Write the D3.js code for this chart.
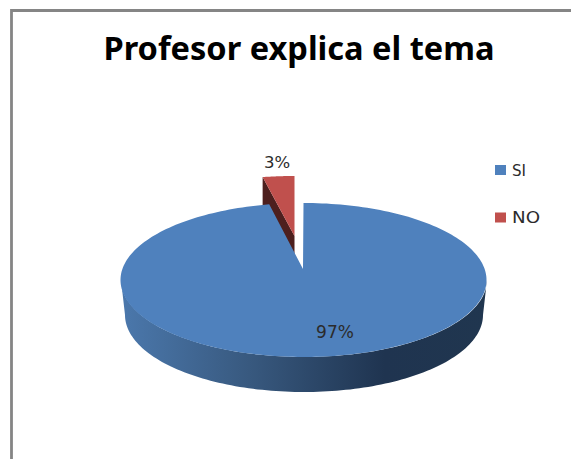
<!DOCTYPE html>
<html><head><meta charset="utf-8">
<script src="https://cdn.jsdelivr.net/npm/d3@7"></script>
<style>html,body{margin:0;padding:0;background:#fff;overflow:hidden}svg{display:block}</style>
</head><body><svg id="c" width="571" height="459"></svg>
<script>
const categories = ["SI", "NO"];
const values = [97, 3];
const labels = ["97%", "3%"];
const colors = ["#4f81bd", "#c0504d"];
const titleText = "Profesor explica el tema";

const svg = d3.select("#c");
const defs = svg.append("defs");
const grad = defs.append("linearGradient").attr("id", "side").attr("gradientUnits", "userSpaceOnUse")
  .attr("x1", 121).attr("x2", 487).attr("y1", 0).attr("y2", 0);
[[0, "#4b78ac"], [0.35, "#38597f"], [0.72, "#1f3450"], [1, "#20364f"]]
  .forEach(s => grad.append("stop").attr("offset", s[0]).attr("stop-color", s[1]));

// frame
svg.append("path").attr("d", "M11.5,459V10.5H571").attr("fill", "none").attr("stroke", "#858585").attr("stroke-width", 2.8);

svg.append("text").attr("x", 299).attr("y", 60).attr("text-anchor", "middle")
  .attr("font-family", "'Noto Sans'").attr("font-weight", 700).attr("font-size", 32)
  .attr("textLength", 391).attr("lengthAdjust", "spacingAndGlyphs").attr("fill", "#000").text(titleText);

const arcs = d3.pie().sort(null)(values);
const line = d3.line();
const ell = (cx, cy, rx, ry) => a => [cx + rx * Math.sin(a), cy - ry * Math.cos(a)];
const sample = (a0, a1, f, n = 120) => d3.range(n + 1).map(i => f(a0 + (a1 - a0) * i / n));

// exploded slice (NO)
{
  const d = arcs[1];
  const apex = [294.5, 236], f = ell(294.5, 236, 170, 60);
  const depth = 34;
  const rimStart = f(d.startAngle);
  // cut face
  svg.append("path").attr("fill", "#4d1f1e").attr("d", line([
    rimStart, apex, [apex[0], apex[1] + depth], [rimStart[0], rimStart[1] + depth]
  ]) + "Z");
  svg.append("path").attr("fill", colors[1]).attr("d",
    line([apex, ...sample(d.startAngle, d.endAngle, f, 30)]) + "Z");
}

// main slice (SI)
{
  const d = arcs[0];
  const top = ell(304, 280, 183, 77), bot = ell(304, 315, 179, 77);
  const pi = Math.PI;
  svg.append("path").attr("fill", "url(#side)").attr("d",
    line([...sample(pi / 2, 3 * pi / 2, top), ...sample(3 * pi / 2, pi / 2, bot)]) + "Z");
  svg.append("path").attr("fill", colors[0]).attr("d",
    line([[303, 269], ...sample(d.startAngle, d.endAngle, a => { const p = top(a); return [p[0] - 0.5, p[1]]; }, 240)]) + "Z");
}

const lab = (x, y, t, s) => svg.append("text").attr("x", x).attr("y", y).attr("text-anchor", "middle")
  .attr("font-family", "'DejaVu Sans'").attr("font-size", s).attr("fill", "#2b2b2b").text(t);
lab(335, 338, labels[0], 17);
lab(277, 168, labels[1], 16.5);

const ly = d3.scalePoint().domain(categories).range([170, 217.5]);
const legendWidths = [14, 28];
categories.forEach((c, i) => {
  svg.append("rect").attr("x", 495).attr("y", ly(c) - 5).attr("width", 11).attr("height", 10).attr("fill", colors[i]);
  svg.append("text").attr("x", 512).attr("y", ly(c) + 5.5).attr("font-family", "'DejaVu Sans'")
    .attr("font-size", 16).attr("textLength", legendWidths[i]).attr("lengthAdjust", "spacingAndGlyphs")
    .attr("fill", "#2b2b2b").text(c);
});
</script></body></html>
